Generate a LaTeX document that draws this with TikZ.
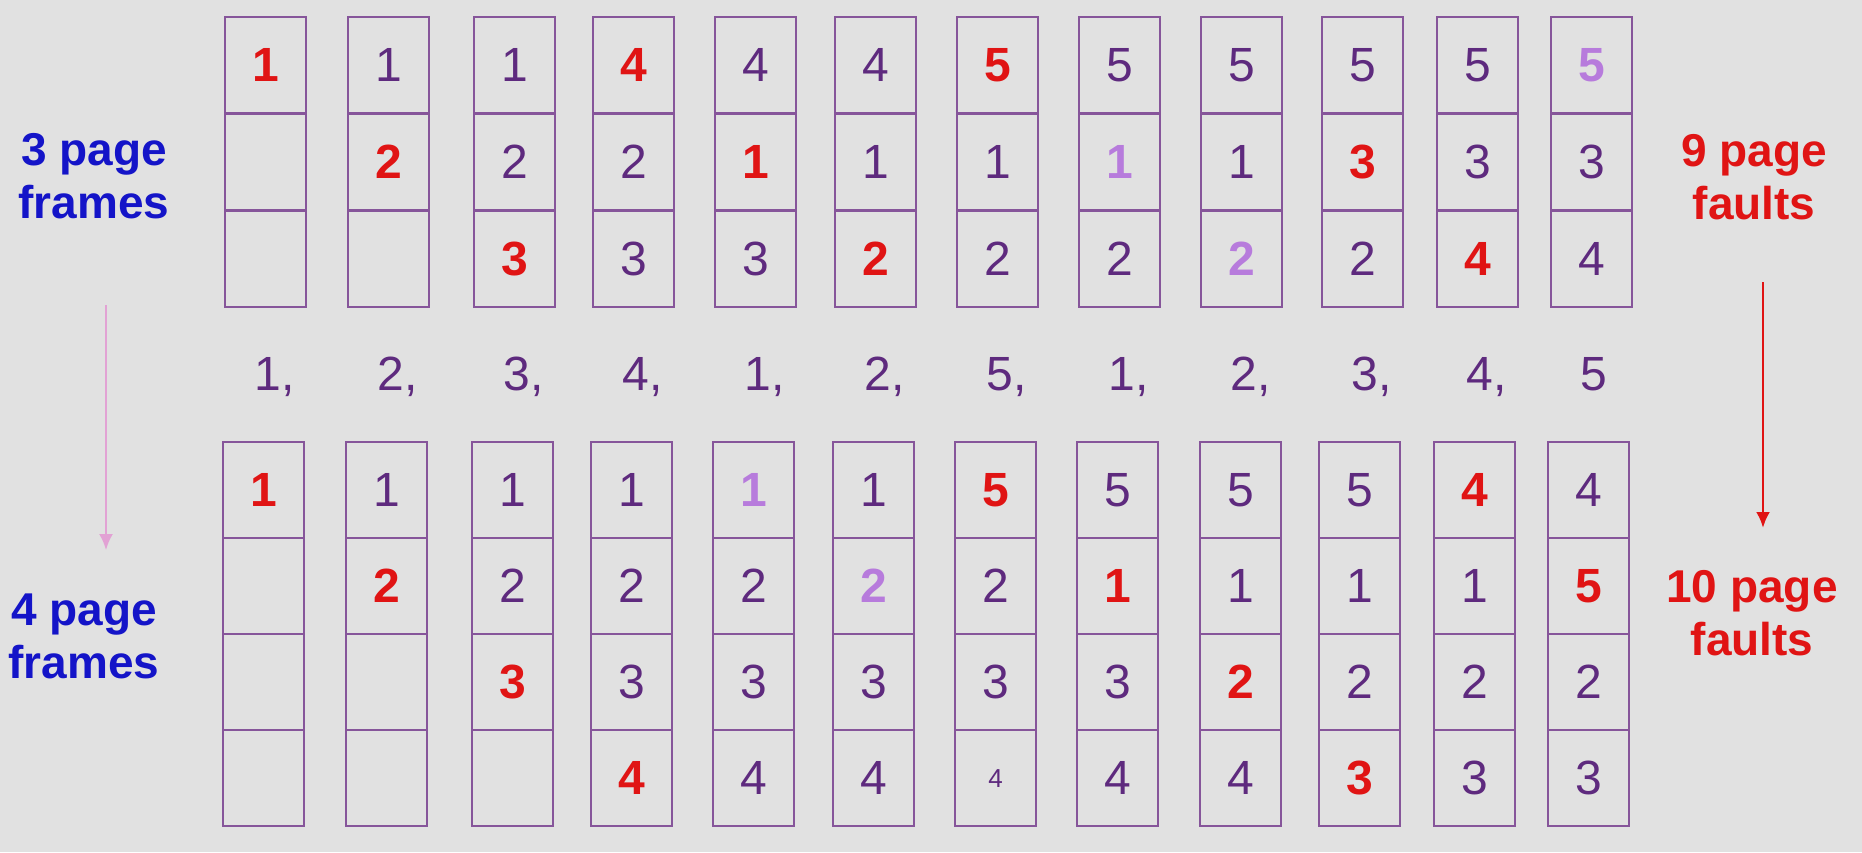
\documentclass[tikz,border=0pt]{standalone}
\usepackage{fontspec}
\setmainfont{Liberation Sans}
\usetikzlibrary{arrows.meta}
\definecolor{bg}{HTML}{E1E1E1}
\definecolor{boxline}{HTML}{86559A}
\definecolor{pgnum}{HTML}{5E2A7E}
\definecolor{fault}{HTML}{E01414}
\definecolor{hitc}{HTML}{B77BDC}
\definecolor{lblue}{HTML}{1414C8}
\definecolor{pinkc}{HTML}{E2A2D4}
\tikzset{>={Latex[length=16pt,width=14pt]}}
\newcommand{\flt}[1]{{\color{fault}\bfseries #1}}
\newcommand{\hit}[1]{{\color{hitc}\bfseries #1}}
\newcommand{\sm}[1]{{\fontsize{26}{26}\selectfont #1}}

\begin{document}
\begin{tikzpicture}[x=1pt,y=-1pt,
  cell/.style={draw=boxline,line width=2.2pt,minimum width=81pt,minimum height=96pt,
    inner sep=0pt,anchor=north west,text=pgnum,font=\fontsize{48}{48}\selectfont},
  seq/.style={anchor=base west,text=pgnum,font=\fontsize{48}{48}\selectfont},
  lbl/.style={align=center,font=\fontsize{46}{53}\selectfont\bfseries}]
  \fill[bg] (0,0) rectangle (1862,852);
  % 3 page frames
  \foreach \x/\a/\b/\c [count=\i] in {224/\flt1//, 347/1/\flt2/, 473/1/2/\flt3,
      592/\flt4/2/3, 714/4/\flt1/3, 834/4/1/\flt2, 956/\flt5/1/2, 1078/5/\hit1/2,
      1200/5/1/\hit2, 1321/5/\flt3/2, 1436/5/3/\flt4, 1550/\hit5/3/4}{
    \node[cell] (t\i a) at (\x,16) {\a};
    \node[cell] (t\i b) at (\x,113) {\b};
    \node[cell] (t\i c) at (\x,210) {\c};
  }
  % reference string
  \foreach \x/\s [count=\i] in {224/{1,}, 347/{2,}, 473/{3,}, 592/{4,}, 714/{1,}, 834/{2,},
      956/{5,}, 1078/{1,}, 1200/{2,}, 1321/{3,}, 1436/{4,}, 1550/5}
    \node[seq] (s\i) at (\x+27,390) {\s};
  % 4 page frames
  \foreach \x/\a/\b/\c/\d [count=\i] in {222/\flt1///, 345/1/\flt2//, 471/1/2/\flt3/,
      590/1/2/3/\flt4, 712/\hit1/2/3/4, 832/1/\hit2/3/4, 954/\flt5/2/3/\sm4,
      1076/5/\flt1/3/4, 1199/5/1/\flt2/4, 1318/5/1/2/\flt3, 1433/\flt4/1/2/3,
      1547/4/\flt5/2/3}{
    \node[cell] (b\i a) at (\x,441) {\a};
    \node[cell] (b\i b) at (\x,537) {\b};
    \node[cell] (b\i c) at (\x,633) {\c};
    \node[cell] (b\i d) at (\x,729) {\d};
  }
  % side labels
  \node[lbl,text=lblue] (three) at (94,176.5) {3 page\\frames};
  \node[lbl,text=lblue] (four) at (84,636) {4 page\\frames};
  \node[lbl,text=fault] (nine) at (1754,177) {9 page\\faults};
  \node[lbl,text=fault] (ten) at (1752,613) {10 page\\faults};
  \coordinate (p0) at (106,305);
  \coordinate (p1) at (106,550);
  \coordinate (r0) at (1763,282);
  \coordinate (r1) at (1763,528);
  \draw[->,pinkc,line width=2.2pt] (p0) -- (p1);
  \draw[->,fault,line width=2.8pt] (r0) -- (r1);
\end{tikzpicture}
\end{document}
